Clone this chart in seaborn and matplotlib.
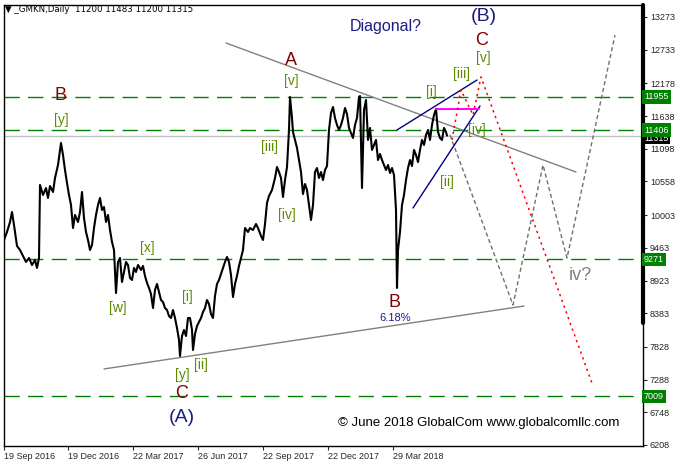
import numpy as np
import pandas as pd
import matplotlib
matplotlib.use("Agg")
import matplotlib.pyplot as plt
import seaborn as sns

################################ chart values #################################
# daily bar index (0 = 19 Sep 2016) and traced price (highs / lows)
bar_idx = [0, 3, 6, 8, 10, 13, 16, 19, 22, 25, 28, 31, 33, 35, 36, 39, 42, 44, 46, 49,
           51, 54, 56, 57, 59, 61, 63, 65, 67, 69, 71, 74, 76, 78, 80, 82, 84, 86, 88, 90,
           92, 94, 96, 98, 100, 102, 104, 106, 108, 110, 112, 114, 116, 118, 120, 122, 124, 126, 128, 130,
           132, 134, 137, 139, 141, 143, 145, 147, 149, 151, 153, 155, 157, 159, 161, 163, 165, 167, 169, 171,
           173, 175, 176, 178, 180, 182, 184, 186, 188, 189, 191, 193, 195, 197, 199, 201, 203, 205, 207, 209,
           211, 213, 215, 217, 219, 221, 223, 225, 227, 229, 231, 233, 235, 237, 239, 241, 244, 246, 249, 252,
           254, 257, 259, 261, 263, 265, 268, 271, 273, 275, 277, 279, 281, 283, 285, 286, 288, 289, 291, 293,
           295, 297, 299, 301, 303, 305, 307, 309, 311, 313, 315, 317, 319, 321, 323, 325, 327, 329, 331, 333,
           335, 337, 339, 341, 343, 345, 347, 349, 351, 353, 355, 356, 358, 360, 362, 364, 366, 368, 370, 372,
           374, 376, 378, 380, 382, 384, 386, 388, 390, 392, 393, 394, 396, 398, 400, 402, 404, 406, 408, 410,
           412, 414, 416, 418, 420, 422, 424, 426, 428, 430, 432, 434, 436, 438, 440, 442, 443]
price = [9592, 9724, 9889, 10054, 9839, 9493, 9427, 9328, 9229, 9295, 9179, 9262, 9130, 9295, 10500, 10335, 10450, 10285, 10483, 10384,
         10615, 10830, 11078, 11193, 10995, 10747, 10533, 10335, 10170, 9790, 10005, 9889, 10054, 10384, 9955, 9724, 9592, 9427, 9509, 9790,
         10005, 10170, 10285, 10087, 10137, 9889, 10005, 9757, 9559, 9427, 8717, 9229, 9295, 8899, 9064, 9229, 9179, 8965, 8932, 9130,
         9064, 9179, 9097, 9163, 8998, 8883, 8800, 8701, 8469, 8767, 8866, 8734, 8601, 8568, 8469, 8436, 8337, 8304, 8436, 8304,
         8139, 7941, 7677, 8007, 8106, 8007, 8304, 8304, 8106, 7776, 8040, 8172, 8238, 8304, 8403, 8469, 8601, 8535, 8370, 8304,
         8668, 8866, 8932, 9031, 9130, 9229, 9311, 9229, 9014, 8651, 8866, 8998, 9163, 9295, 9427, 9790, 9724, 9790, 9757, 9856,
         9790, 9658, 9592, 9856, 10203, 10318, 10417, 10615, 10797, 10714, 10615, 10302, 10582, 10797, 11408, 11952, 11606, 11375, 11243, 11111,
         10912, 10714, 10351, 10516, 10417, 10170, 9922, 10170, 10714, 10780, 10615, 10714, 10582, 10747, 10813, 11408, 11688, 11787, 11606, 11490,
         11408, 11490, 11606, 11771, 11672, 11441, 11358, 11276, 11490, 11606, 11952, 11969, 10450, 11738, 11903, 11243, 11441, 11078, 11160, 11243,
         10912, 11012, 10912, 10830, 10747, 10830, 10698, 10780, 10665, 10087, 8800, 9427, 9724, 10170, 10335, 10582, 10780, 10912, 10813, 11078,
         10995, 10879, 11078, 11243, 11160, 11325, 11408, 11243, 11490, 11655, 11754, 11375, 11276, 11243, 11441, 11375, 11315]

date_ticks = [0, 64, 129, 194, 259, 324, 389]
date_labels = ["19 Sep 2016", "19 Dec 2016", "22 Mar 2017", "26 Jun 2017",
               "22 Sep 2017", "22 Dec 2017", "29 Mar 2018"]
price_ticks = [13273, 12733, 12178, 11638, 11098, 10558, 10003, 9463, 8923,
               8383, 7828, 7288, 6748, 6208]

levels = [11955, 11406, 9271, 7009]
last_price = 11315
header = "\u25bc _GMKN,Daily  11200 11483 11200 11315"

# trend lines (bar, price) pairs
upper_trend = ([222, 572], [12844, 10714])
lower_trend = ([100, 520], [7463, 8502])
diag_upper = ([393, 473], [11408, 12233])
diag_lower = ([409, 476], [10120, 11804])
magenta_lvl = ([432, 475], [11754, 11754])
red_path = ([448, 457, 469, 477, 589], [11243, 12068, 11655, 12283, 7182])
gray_path = ([446, 509, 539, 563, 611], [11325, 8519, 10830, 9295, 12976])

# wave labels: text, bar, price, kind
wave_text = ["Diagonal?", "(B)", "C", "[v]", "[iii]", "[i]", "[iv]", "[ii]",
             "A", "[v]", "[iii]", "[iv]", "B", "[y]", "[x]", "[w]",
             "[i]", "[ii]", "[y]", "C", "(A)", "B", "6.18%", "iv?"]
wave_x = [382, 480, 478, 479, 457, 427, 473, 443,
          287, 287, 266, 283, 57, 57, 143, 114,
          183, 197, 178, 178, 178, 391, 391, 576]
wave_y = [13108, 13289, 12893, 12596, 12332, 12035, 11408, 10549,
          12563, 12216, 11127, 10005, 11969, 11573, 9460, 8469,
          8651, 7529, 7363, 7050, 6654, 8568, 8304, 8998]
wave_kind = ["note", "major", "abc", "sub", "sub", "sub", "sub", "sub",
             "abc", "sub", "sub", "sub", "abc", "sub", "sub", "sub",
             "sub", "sub", "sub", "abc", "major", "abc", "pct", "q"]
copyright_txt = "\u00a9 June 2018 GlobalCom www.globalcomllc.com"
###############################################################################

sns.set_style("white")
plt.rcParams['font.family'] = ['Liberation Sans', 'DejaVu Sans']

fig = plt.figure(figsize=(6.82, 4.69), dpi=100)
ax = fig.add_axes([4/682, 23/469, 639/682, 441/469])
xmax = 639
ax.set_xlim(0, xmax)
ax.set_ylim(6191, 13471)

# levels
for lv in levels:
    ax.axhline(lv, color='#008000', lw=1, ls=(0, (11, 6)), zorder=1)
ax.axhline(last_price, color='#c0c0c0', lw=1, zorder=1)

# price
df = pd.DataFrame({'bar': bar_idx, 'price': price})
sns.lineplot(data=df, x='bar', y='price', ax=ax, color='black', lw=1.5,
             estimator=None, sort=False, zorder=3)

# trend lines
for ln in [upper_trend, lower_trend]:
    ax.plot(ln[0], ln[1], color='#808080', lw=1, zorder=2)
for ln in [diag_upper, diag_lower]:
    ax.plot(ln[0], ln[1], color='#000080', lw=1, zorder=4)
ax.plot(magenta_lvl[0], magenta_lvl[1], color='#ff00ff', lw=1.4, zorder=4)
ax.plot(red_path[0], red_path[1], color='red', lw=1.1, ls=(0, (1.5, 2.5)), zorder=4)
ax.plot(gray_path[0], gray_path[1], color='#707070', lw=1, ls=(0, (3, 2)), zorder=2)

styles = {
    'note': dict(color='#1c1c80', fontsize=11.5),
    'major': dict(color='#1c1c80', fontsize=14),
    'abc': dict(color='#800000', fontsize=13),
    'sub': dict(color='#5f8a00', fontsize=10),
    'pct': dict(color='#1c1c80', fontsize=8),
    'q': dict(color='#808080', fontsize=13),
}
for t, x, y, k in zip(wave_text, wave_x, wave_y, wave_kind):
    ax.text(x, y, t, ha='center', va='center', zorder=5, **styles[k])

ax.text(334, 6571, copyright_txt, ha='left', va='center', fontsize=9.5, color='black')
ax.text(0.002, 0.9887, header, transform=ax.transAxes, ha='left', va='center',
        fontsize=6.2, color='black', family=['DejaVu Sans'])

# axes look
for s in ax.spines.values():
    s.set_color('black')
    s.set_linewidth(1)
ax.axvline(xmax, ymin=(446-323)/441, ymax=1, color='black', lw=3, clip_on=False, zorder=6)

ax.yaxis.tick_right()
ax.set_yticks(price_ticks)
ax.set_yticklabels([str(v) for v in price_ticks])
ax.tick_params(axis='y', direction='out', length=3, width=0.8, pad=2,
               labelsize=6.5, right=True, left=False)
ax.set_xticks(date_ticks)
ax.set_xticklabels(date_labels, ha='left')
ax.tick_params(axis='x', direction='out', length=3, width=0.8, pad=1.5,
               labelsize=6.5, bottom=True)
ax.set_xlabel("")
ax.set_ylabel("")

# boxed price labels on the right axis (the last price box sits under 11406)
trans = ax.get_yaxis_transform()
ax.text(1.0015, last_price - 40, str(last_price), transform=trans, ha='left', va='center',
        fontsize=6.5, color='white', bbox=dict(boxstyle='square,pad=0.15', fc='black', ec='none'),
        clip_on=False, zorder=6)
for lv in levels:
    ax.text(1.0015, lv, str(lv), transform=trans, ha='left', va='center', fontsize=6.5,
            color='white', bbox=dict(boxstyle='square,pad=0.25', fc='#008000', ec='none'),
            clip_on=False, zorder=7)

fig.savefig("out.png", dpi=100)
